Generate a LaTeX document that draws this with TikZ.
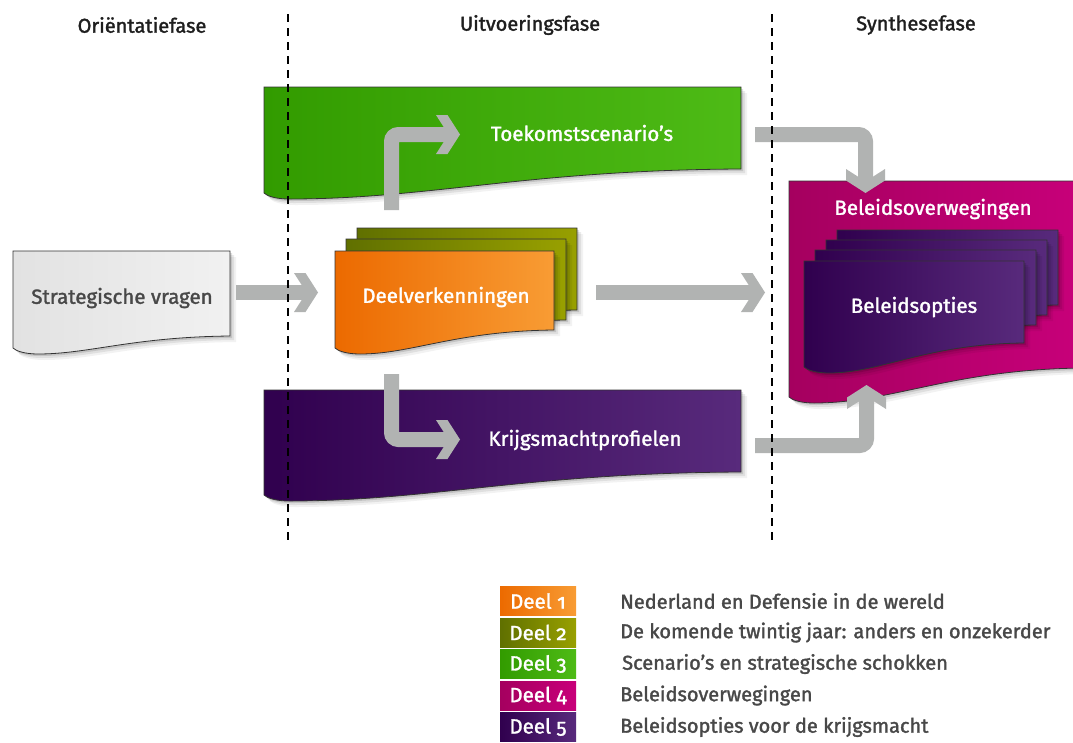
\documentclass[tikz,border=0pt]{standalone}
\usepackage{fontspec}
\setmainfont{Fira Sans}[Numbers=OldStyle]
\newfontfamily\semib{Fira Sans}[Numbers=OldStyle,FakeBold=1.6]
\usetikzlibrary{shadows,arrows.meta}
\definecolor{greenL}{RGB}{50,155,0}
\definecolor{greenR}{RGB}{78,187,22}
\definecolor{purL}{RGB}{48,0,78}
\definecolor{purR}{RGB}{88,42,124}
\definecolor{orL}{RGB}{236,106,0}
\definecolor{orR}{RGB}{248,156,52}
\definecolor{olL}{RGB}{96,112,0}
\definecolor{olR}{RGB}{152,160,0}
\definecolor{magL}{RGB}{165,0,95}
\definecolor{magR}{RGB}{200,0,122}
\definecolor{grayL}{RGB}{226,226,226}
\definecolor{grayR}{RGB}{241,241,241}
\definecolor{arrowgray}{RGB}{177,179,178}
\definecolor{txtdark}{RGB}{30,30,30}
\definecolor{txtgray}{RGB}{72,72,72}
\pgfdeclarearrow{
  name = Chev,
  setup code = {
    \pgfarrowssettipend{0pt}
    \pgfarrowssetlineend{-9pt}
    \pgfarrowssetbackend{-24pt}
    \pgfarrowssetvisualbackend{-11pt}
    \pgfarrowsupperhullpoint{-24pt}{19.5pt}
    \pgfarrowsupperhullpoint{0pt}{0pt}
  },
  drawing code = {
    \pgfpathmoveto{\pgfpoint{0pt}{0pt}}
    \pgfpathlineto{\pgfpoint{-12.5pt}{19.5pt}}
    \pgfpathlineto{\pgfpoint{-24pt}{19.5pt}}
    \pgfpathlineto{\pgfpoint{-11.5pt}{0pt}}
    \pgfpathlineto{\pgfpoint{-24pt}{-19.5pt}}
    \pgfpathlineto{\pgfpoint{-12.5pt}{-19.5pt}}
    \pgfpathclose
    \pgfusepathqfill
  }
}
\newcommand\docpath[5]{(#1,#2) -- (#3,#2) -- (#3,#4) .. controls ({#3-0.45*(#3-#1)},{#4+1}) and ({#1+0.35*(#3-#1)},{#5+6}) .. ({#1+25},{#5+6}) .. controls ({#1+12},{#5+6}) and ({#1+3},{#5+3}) .. (#1,#5) -- cycle}
\begin{document}
\begin{tikzpicture}[x=1pt,y=-1pt,
  box/.style={draw=black!80, line width=0.8pt,
    general shadow={shadow xshift=2pt,shadow yshift=-2pt,fill=black,opacity=.12},
    general shadow={shadow xshift=4pt,shadow yshift=-4pt,fill=black,opacity=.08},
    general shadow={shadow xshift=6pt,shadow yshift=-6pt,fill=black,opacity=.05}},
  boxlabel/.style={text=white, font=\semib\fontsize{20.5}{24}\selectfont, inner sep=0pt},
  header/.style={text=txtdark, font=\semib\fontsize{20}{24}\selectfont, inner sep=0pt},
  garrow/.style={color=arrowgray, line width=15pt, rounded corners=7pt, -{Chev}},
  phase/.style={black, line width=2pt, dash pattern=on 8pt off 6pt},
  legbox/.style={minimum width=76pt, minimum height=29pt, inner sep=0pt, text=white, font=\semib\fontsize{20.5}{24}\selectfont},
  legtext/.style={anchor=west, inner sep=0pt, text=txtgray, font=\semib\fontsize{20}{24}\selectfont}]
\useasboundingbox (0,0) rectangle (1073,742);
\fill[white] (0,0) rectangle (1073,742);
% boxes
\path[box, left color=greenL, right color=greenR] \docpath{264}{87}{741}{169}{193};
\path[box, left color=purL, right color=purR] \docpath{264}{390}{741}{472}{495};
\path[box, left color=grayL, right color=grayR] \docpath{13}{251}{230}{336}{348};
\path[box, left color=olL, right color=olR] \docpath{357}{228}{577}{310}{328};
\path[box, left color=olL, right color=olR] \docpath{346}{239}{566}{320}{338};
\path[box, left color=orL, right color=orR] \docpath{335}{251}{554}{330}{348};
\path[box, left color=magL, right color=magR] \docpath{789}{181}{1085}{368}{397};
\path[box, left color=purL, right color=purR] \docpath{837}{230}{1058}{305}{329};
\path[box, left color=purL, right color=purR] \docpath{826}{240}{1047}{315}{339};
\path[box, left color=purL, right color=purR] \docpath{815}{250}{1036}{325}{349};
\path[box, left color=purL, right color=purR] \docpath{804}{261}{1024}{343}{367};
% labels
\node[boxlabel, text=txtgray] (strat) at (122,298) {Strategische vragen};
\node[boxlabel] (deel) at (446,297) {Deelverkenningen};
\node[boxlabel] (toek) at (582,133) {Toekomstscenario’s};
\node[boxlabel] (krijg) at (585,440) {Krijgsmachtprofielen};
\node[boxlabel] (belov) at (933,209) {Beleidsoverwegingen};
\node[boxlabel] (belop) at (914,307) {Beleidsopties};
% arrow end points
\coordinate (sv-out) at (236,292.5);
\coordinate (dv-in) at (318,292.5);
\coordinate (dv-out) at (596,292.5);
\coordinate (sy-in) at (765,292.5);
\coordinate (dv-up) at (391.5,210);
\coordinate (tk-in) at (460,134.5);
\coordinate (dv-down) at (391.5,374);
\coordinate (kp-in) at (460,439.5);
\coordinate (tk-out) at (755,134.5);
\coordinate (bo-top) at (865.5,193);
\coordinate (kp-out) at (755,445.5);
\coordinate (bo-bot) at (866.5,385);
\draw[garrow] (sv-out) -- (dv-in);
\draw[garrow] (dv-out) -- (sy-in);
\draw[garrow] (dv-up) |- (tk-in);
\draw[garrow] (dv-down) |- (kp-in);
\draw[garrow] (tk-out) -| (bo-top);
\draw[garrow] (kp-out) -| (bo-bot);
% phase separators
\coordinate (s1t) at (288,14); \coordinate (s1b) at (288,540);
\coordinate (s2t) at (772,14); \coordinate (s2b) at (772,540);
\draw[phase] (s1t) -- (s1b);
\draw[phase] (s2t) -- (s2b);
% headers
\node[header] (orient) at (142,25) {Oriëntatiefase};
\node[header] (uitv) at (530,25) {Uitvoeringsfase};
\node[header] (synth) at (916,25) {Synthesefase};
% legend
\node[legbox, left color=orL, right color=orR] (l1) at (538,601) {Deel 1};
\node[legbox, left color=olL, right color=olR] (l2) at (538,632.5) {Deel 2};
\node[legbox, left color=greenL, right color=greenR] (l3) at (538,664) {Deel 3};
\node[legbox, left color=magL, right color=magR] (l4) at (538,695.5) {Deel 4};
\node[legbox, left color=purL, right color=purR] (l5) at (538,727) {Deel 5};
\node[legtext] (t1) at (620,601) {Nederland en Defensie in de wereld};
\node[legtext] (t2) at (620,632.5) {De komende twintig jaar: anders en onzekerder};
\node[legtext] (t3) at (622,664) {Scenario’s en strategische schokken};
\node[legtext] (t4) at (620,695.5) {Beleidsoverwegingen};
\node[legtext] (t5) at (620,727) {Beleidsopties voor de krijgsmacht};
\end{tikzpicture}
\end{document}
